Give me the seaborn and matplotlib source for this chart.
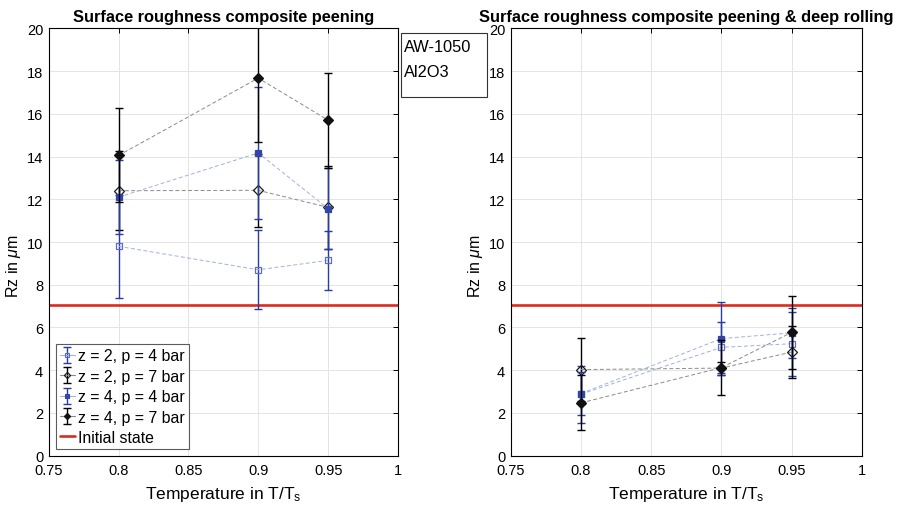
import numpy as np
import pandas as pd
import matplotlib
matplotlib.use("Agg")
import matplotlib.pyplot as plt
import seaborn as sns
from matplotlib.lines import Line2D
from matplotlib.legend_handler import HandlerTuple
from matplotlib.patches import Rectangle

# ---------------- data ----------------
temps = [0.8, 0.9, 0.95]
series_labels = ["z = 2, p = 4 bar", "z = 2, p = 7 bar", "z = 4, p = 4 bar", "z = 4, p = 7 bar"]

# composite peening
cp_rz = [
    [9.80, 8.70, 9.14],
    [12.40, 12.42, 11.62],
    [12.10, 14.17, 11.56],
    [14.05, 17.67, 15.70],
]
cp_err = [
    [2.40, 1.85, 1.37],
    [1.85, 1.71, 1.96],
    [1.72, 3.10, 1.90],
    [2.20, 3.00, 2.23],
]
# composite peening & deep rolling
dr_rz = [
    [2.88, 5.07, 5.24],
    [4.03, 4.10, 4.85],
    [2.91, 5.48, 5.75],
    [2.47, 4.12, 5.77],
]
dr_err = [
    [1.33, 1.20, 1.50],
    [1.49, 0.30, 1.20],
    [1.02, 1.72, 1.18],
    [1.29, 1.29, 1.72],
]
initial_state = 7.05

titles = ["Surface roughness composite peening",
          "Surface roughness composite peening & deep rolling"]
xticks = [0.75, 0.8, 0.85, 0.9, 0.95, 1.0]
xtick_labels = ["0.75", "0.8", "0.85", "0.9", "0.95", "1"]
yticks = list(range(0, 21, 2))

# ---------------- style ----------------
sns.set_theme(style="white")
plt.rcParams["font.family"] = ["Liberation Sans", "DejaVu Sans"]
plt.rcParams["mathtext.fontset"] = "custom"
plt.rcParams["mathtext.rm"] = "Liberation Sans"
plt.rcParams["mathtext.it"] = "Liberation Sans:italic"
plt.rcParams["mathtext.bf"] = "Liberation Sans:bold"
plt.rcParams["text.color"] = "black"
plt.rcParams["axes.labelcolor"] = "black"
plt.rcParams["xtick.color"] = "black"
plt.rcParams["ytick.color"] = "black"

blue_err = "#2a3ca2"
black_err = "#000000"
styles = [
    dict(ecolor=blue_err, lcolor="#a3b0e0", marker="s", mfc="none", mec="#5a6cc4", ms=5.0),
    dict(ecolor=black_err, lcolor="#8a8a8a", marker="D", mfc="none", mec="#1a1a1a", ms=5.5),
    dict(ecolor=blue_err, lcolor="#a3b0e0", marker="s", mfc="#3146a8", mec="#3146a8", ms=5.0),
    dict(ecolor=black_err, lcolor="#8a8a8a", marker="D", mfc="#111111", mec="#111111", ms=5.5),
]

fig = plt.figure(figsize=(9.12, 5.10), dpi=100)
ax1 = fig.add_axes([0.0534, 0.1045, 0.383, 0.838])
ax2 = fig.add_axes([0.5600, 0.1045, 0.385, 0.838])

legend_handles = []
for pi, (ax, rz, err) in enumerate([(ax1, cp_rz, cp_err), (ax2, dr_rz, dr_err)]):
    ax.axhline(initial_state, color="#dc2a1e", lw=1.9, zorder=1)
    for si in range(4):
        st = styles[si]
        df = pd.DataFrame({"T": temps, "Rz": rz[si]})
        eb = ax.errorbar(df["T"], df["Rz"], yerr=err[si], fmt="none",
                         ecolor=st["ecolor"], elinewidth=1.0, capsize=3,
                         capthick=1.0, zorder=3 + 2 * si)
        sns.lineplot(data=df, x="T", y="Rz", ax=ax, sort=False,
                     color=st["lcolor"], linestyle=(0, (4, 2.5)), lw=0.7,
                     marker=st["marker"], mfc=st["mfc"], mec=st["mec"],
                     mew=0.9, ms=st["ms"], zorder=4 + 2 * si, legend=False)
        if pi == 0:
            proxy = Line2D([], [], color=st["lcolor"], lw=0.8, marker=st["marker"],
                           mfc=st["mfc"], mec=st["mec"], ms=3.2, mew=0.8)
            legend_handles.append((eb, proxy))

    ax.set_xlim(0.75, 1.0)
    ax.set_ylim(0, 20)
    ax.set_xticks(xticks)
    ax.set_xticklabels(xtick_labels)
    ax.set_yticks(yticks)
    ax.grid(True, color="#e4e4e4", lw=0.7)
    ax.set_axisbelow(True)
    for sp in ax.spines.values():
        sp.set_color("black")
        sp.set_linewidth(0.8)
    ax.tick_params(direction="in", top=True, right=True, length=3.5, width=0.7,
                   labelsize=10.5, colors="black")
    ax.tick_params(axis="x", pad=5)
    ax.tick_params(axis="y", pad=4)
    ax.set_xlabel("Temperature in T/T$_\\mathrm{s}$", fontsize=12.5, labelpad=5)
    ax.set_ylabel("Rz in $\\mu$m", fontsize=11.5)
    ax.yaxis.set_label_coords(-0.074, 0.445)
    ax.set_title(titles[pi], fontsize=11.8, fontweight="bold", pad=5)

legend_handles.append(Line2D([], [], color="#dc2a1e", lw=1.9))
leg = ax1.legend(legend_handles, series_labels + ["Initial state"],
                 handler_map={tuple: HandlerTuple(ndivide=1)},
                 loc="lower left", bbox_to_anchor=(0.02, 0.016), borderaxespad=0,
                 fontsize=11.4, handlelength=0.95, handletextpad=0.2,
                 borderpad=0.25, labelspacing=0.34, frameon=True, fancybox=False)
leg.get_frame().set_edgecolor("#333333")
leg.get_frame().set_linewidth(0.8)

# annotation box
fig.patches.append(Rectangle((401 / 912, 1 - 98 / 510), 86 / 912, 64 / 510,
                             transform=fig.transFigure, fc="white", ec="#333333",
                             lw=0.8, zorder=10))
fig.text(404 / 912, 1 - 48 / 510, "AW-1050", fontsize=11.8, va="center", ha="left", zorder=11)
fig.text(404 / 912, 1 - 73 / 510, "Al2O3", fontsize=11.8, va="center", ha="left", zorder=11)

fig.savefig("out.png", dpi=100)
